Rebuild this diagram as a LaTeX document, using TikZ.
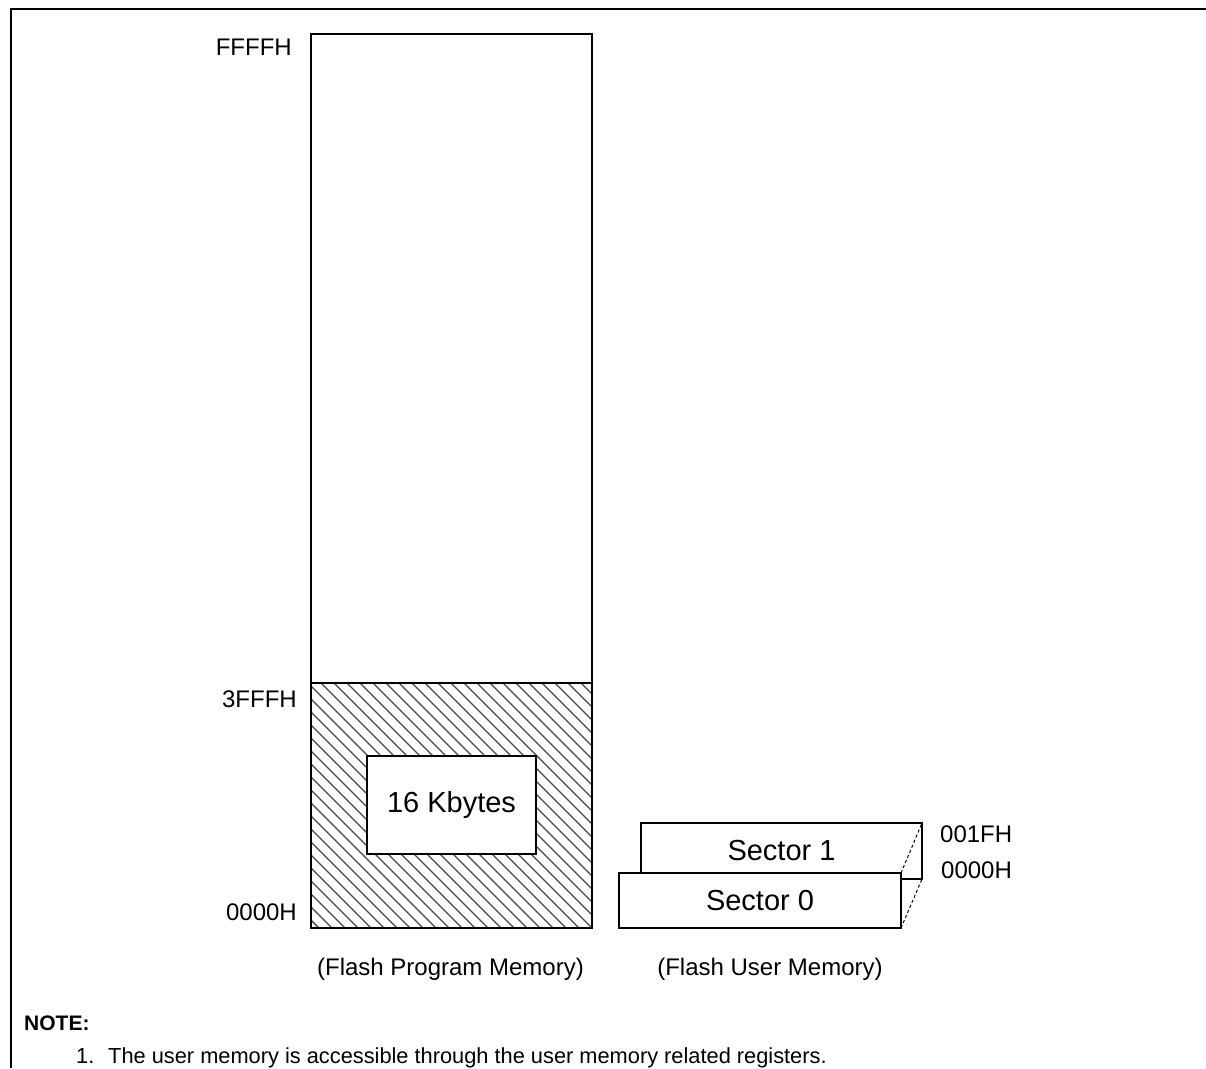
\documentclass[tikz,border=0pt]{standalone}
\usepackage{fontspec}
\setmainfont{Liberation Sans}
\begin{document}
\begin{tikzpicture}[x=1pt,y=-1pt,
  membox/.style={draw, line width=1.6pt, rectangle, inner sep=0pt, outer sep=0pt},
  bigtext/.style={font=\fontsize{29}{34}\selectfont},
  addr/.style={font=\fontsize{24}{28}\selectfont, inner sep=0pt},
  caption/.style={font=\fontsize{24}{28}\selectfont, inner sep=0pt, anchor=base},
  notetext/.style={font=\fontsize{21.8}{26}\selectfont, inner sep=0pt, anchor=base west},
  hatchline/.style={line width=1.4pt, black!72},
  sidedash/.style={line width=1pt, dash pattern=on 3pt off 2.5pt}
]
\useasboundingbox (0,0) rectangle (1206,1068);

% outer frame (top and left edges)
\draw[line width=2.8pt] (11,1068) -- (11,9) -- (1206,9);

% hatched 16 KB region at the bottom of the program space
\begin{scope}
  \clip (311,683) rectangle (592,928);
  \foreach \k in {0,...,42}
    \draw[hatchline] ({311-250+\k*13},683) -- ++(250,250);
\end{scope}

% program memory column and its divider
\node[membox, minimum width=281pt, minimum height=894pt] (prog) at (451.5,481) {};
\node[membox, minimum width=281pt, minimum height=245pt] (low) at (451.5,805.5) {};
\node[membox, fill=white, bigtext, minimum width=169pt, minimum height=98pt] (kb) at (451.5,805) {16 Kbytes};

% address labels of the program memory
\node[addr, anchor=base east] (aFFFF) at (292,55) {FFFFH};
\node[addr, anchor=base east] (a3FFF) at (297,707) {3FFFH};
\node[addr, anchor=base east] (a0000) at (297,920) {0000H};

% user memory sectors
\node[membox, fill=white, bigtext, minimum width=281pt, minimum height=56pt] (s1) at (781.5,851) {Sector 1};
\node[membox, fill=white, bigtext, minimum width=282pt, minimum height=55pt] (s0) at (760,900.5) {Sector 0};
\draw[sidedash] (s0.north east) -- (s1.north east);
\draw[sidedash] (s0.south east) -- (s1.south east);

\node[addr, anchor=base west] (u001F) at (940,842) {001FH};
\node[addr, anchor=base west] (u0000) at (941,878) {0000H};

% captions
\node[caption] (capP) at (450.5,975) {(Flash Program Memory)};
\node[caption] (capU) at (770,975) {(Flash User Memory)};

% note
\node[notetext, font=\fontsize{21}{26}\selectfont\bfseries] (note) at (24,1030) {NOTE:};
\node[notetext] (n1) at (76,1063) {1.};
\node[notetext] (n1text) at (108,1063) {The user memory is accessible through the user memory related registers.};
\end{tikzpicture}
\end{document}
